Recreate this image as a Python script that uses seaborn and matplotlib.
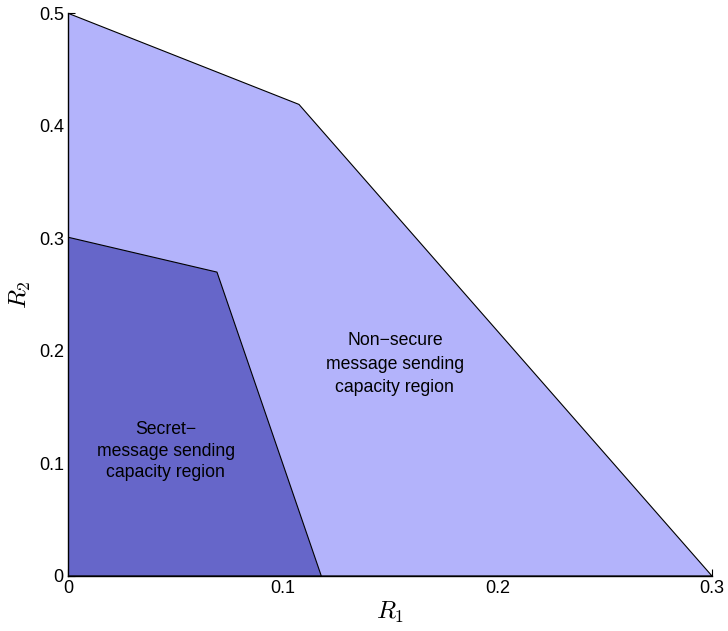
import matplotlib
matplotlib.use("Agg")
import matplotlib.pyplot as plt
import seaborn as sns

# corner points of the two rate regions (R1, R2)
nonsecure_r1 = [0.0, 0.0, 0.1076, 0.3]
nonsecure_r2 = [0.0, 0.5, 0.419, 0.0]
secret_r1 = [0.0, 0.0, 0.0694, 0.118]
secret_r2 = [0.0, 0.301, 0.27, 0.0]

x_ticks = [0, 0.1, 0.2, 0.3]
x_tick_labels = ["0", "0.1", "0.2", "0.3"]
y_ticks = [0, 0.1, 0.2, 0.3, 0.4, 0.5]
y_tick_labels = ["0", "0.1", "0.2", "0.3", "0.4", "0.5"]

sns.set_style("ticks")
plt.rcParams["font.family"] = ["Liberation Sans", "DejaVu Sans"]
plt.rcParams["mathtext.fontset"] = "cm"
plt.rcParams["text.color"] = "black"
plt.rcParams["axes.labelcolor"] = "black"

fig = plt.figure(figsize=(7.28, 6.31), dpi=100)
ax = fig.add_axes([0.0934, 0.0872, 0.8846, 0.8918])

ax.fill(nonsecure_r1, nonsecure_r2, facecolor="#b3b3fb", edgecolor="black", linewidth=0.8, zorder=1)
ax.fill(secret_r1, secret_r2, facecolor="#6666c9", edgecolor="black", linewidth=0.8, zorder=2)

ax.text(0.1523, 0.188, "Non\u2212secure\nmessage sending\ncapacity region",
        ha="center", va="center", fontsize=12.7, linespacing=1.5, zorder=3)
ax.text(0.0455, 0.111, "Secret\u2212\nmessage sending\ncapacity region",
        ha="center", va="center", fontsize=12.7, linespacing=1.38, zorder=3)

ax.set_xlim(0, 0.3)
ax.set_ylim(0, 0.5)
ax.set_xticks(x_ticks)
ax.set_xticklabels(x_tick_labels)
ax.set_yticks(y_ticks)
ax.set_yticklabels(y_tick_labels)
ax.tick_params(direction="in", length=5, width=0.8, labelsize=13, pad=3, colors="black")
ax.set_axisbelow(True)
for side in ["top", "right"]:
    ax.spines[side].set_visible(False)
for side in ["left", "bottom"]:
    ax.spines[side].set_linewidth(1.0)
    ax.spines[side].set_color("black")

ax.set_xlabel("$R_1$", fontsize=18, labelpad=2)
ax.set_ylabel("$R_2$", fontsize=18, labelpad=4)

fig.savefig("out.png", dpi=100)
